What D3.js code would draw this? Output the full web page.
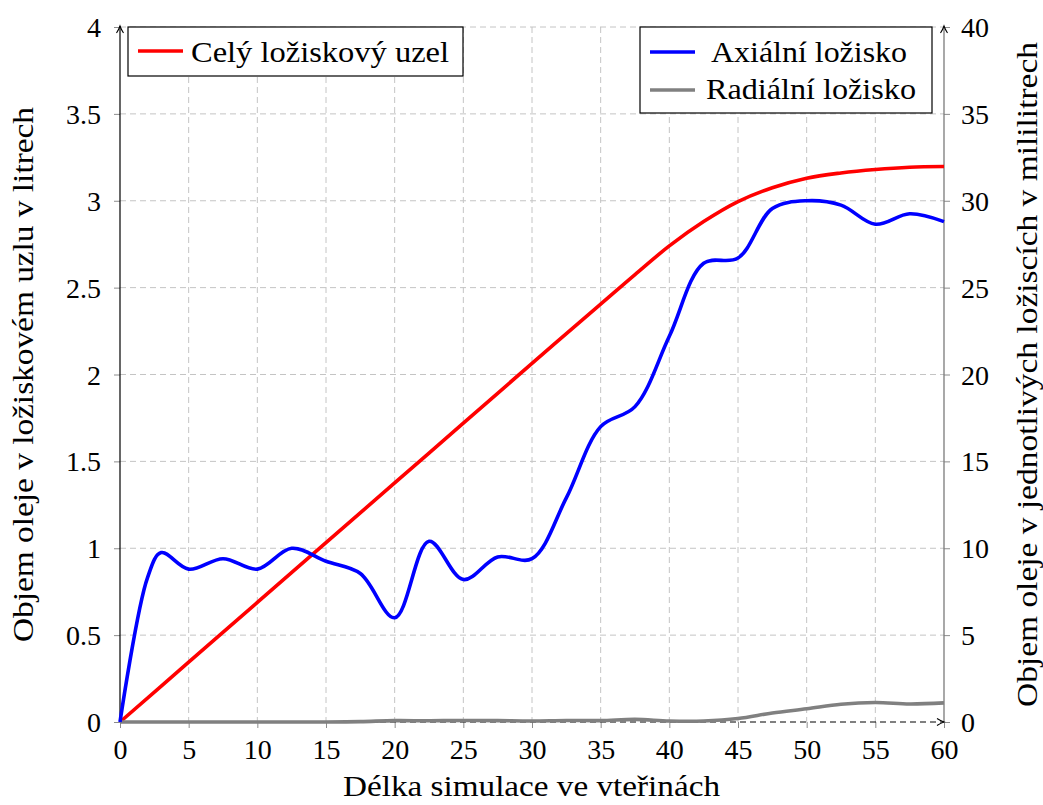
<!DOCTYPE html>
<html>
<head>
<meta charset="utf-8">
<script src="https://cdn.jsdelivr.net/npm/d3@7"></script>
<style>
  html, body { margin: 0; padding: 0; background: #fff; }
  svg { display: block; }
  text { font-family: "Liberation Serif", "Times New Roman", serif; fill: #000; }
</style>
</head>
<body>
<svg id="chart" width="1043" height="805"></svg>
<script>
// Time in seconds
const xTicks = [0, 5, 10, 15, 20, 25, 30, 35, 40, 45, 50, 55, 60];
const yLeftTicks = [0, 0.5, 1, 1.5, 2, 2.5, 3, 3.5, 4];
const yRightTicks = [0, 5, 10, 15, 20, 25, 30, 35, 40];

// Whole bearing node, litres (left axis)
const timeTotal = [0, 5, 10, 15, 20, 25, 30, 35, 37.5, 40, 42.5, 45, 47.5, 50, 52.5, 55, 57.5, 60];
const oilTotal = [0, 0.344, 0.688, 1.032, 1.376, 1.72, 2.064, 2.405, 2.575, 2.74, 2.88, 2.995, 3.075, 3.13, 3.16, 3.18, 3.193, 3.197];

// Axial bearing, millilitres (right axis)
const timeAxial = [0, 2, 3, 5, 7.5, 10, 12.5, 15, 17.5, 20, 22.5, 25, 27.5, 30, 32.5, 35, 37.5, 40, 42.5, 45, 47.5, 50, 52.5, 55, 57.5, 60];
const oilAxial = [0, 8.3, 9.75, 8.8, 9.4, 8.8, 10.0, 9.25, 8.55, 6.0, 10.4, 8.2, 9.5, 9.4, 12.9, 17.0, 18.15, 22.2, 26.4, 26.7, 29.55, 30.0, 29.75, 28.65, 29.25, 28.8];

// Radial bearing, millilitres (right axis)
const timeRadial = [0, 2.5, 5, 7.5, 10, 12.5, 15, 17.5, 20, 22.5, 25, 27.5, 30, 32.5, 35, 37.5, 40, 42.5, 45, 47.5, 50, 52.5, 55, 57.5, 60];
const oilRadial = [0, 0, 0, 0, 0, 0, 0, 0.02, 0.08, 0.07, 0.09, 0.08, 0.06, 0.09, 0.08, 0.15, 0.06, 0.06, 0.2, 0.52, 0.76, 1.02, 1.12, 1.04, 1.1];

const plotLeft = 120, plotRight = 944, plotTop = 27, plotBottom = 722;

const svg = d3.select("#chart");
const x = d3.scaleLinear().domain([0, 60]).range([plotLeft, plotRight]);
const yL = d3.scaleLinear().domain([0, 4]).range([plotBottom, plotTop]);
const yR = d3.scaleLinear().domain([0, 40]).range([plotBottom, plotTop]);

// Grid
const grid = svg.append("g")
  .attr("stroke", "#c4c4c4").attr("stroke-width", 1).attr("stroke-dasharray", "6,4").attr("fill", "none");
grid.selectAll("line.v").data(xTicks.filter(d => d > 0 && d < 60)).join("line")
  .attr("x1", d => x(d)).attr("x2", d => x(d)).attr("y1", plotTop).attr("y2", plotBottom);
grid.selectAll("line.h").data(yLeftTicks.filter(d => d > 0)).join("line")
  .attr("x1", plotLeft).attr("x2", plotRight).attr("y1", d => yL(d)).attr("y2", d => yL(d));

// Axes (ticks and labels through d3 axis generators)
function styleAxis(g) {
  g.attr("font-family", null);
  g.select(".domain").remove();
  g.selectAll(".tick line").attr("stroke", "#8c8c8c").attr("stroke-width", 1);
  g.selectAll(".tick text").attr("font-size", 28).attr("fill", "#000");
}

const xAxis = svg.append("g").attr("transform", `translate(0,${plotBottom})`)
  .call(d3.axisBottom(x).tickValues(xTicks).tickFormat(d3.format("d")).tickSize(6).tickPadding(10))
  .call(styleAxis);
xAxis.selectAll(".tick text").attr("y", 37).attr("dy", 0);

const yAxisL = svg.append("g").attr("transform", `translate(${plotLeft},0)`)
  .call(d3.axisLeft(yL).tickValues(yLeftTicks).tickFormat(d => String(d)).tickSize(6).tickPadding(13))
  .call(styleAxis);
yAxisL.selectAll(".tick text").attr("dy", "0.34em");

const yAxisR = svg.append("g").attr("transform", `translate(${plotRight},0)`)
  .call(d3.axisRight(yR).tickValues(yRightTicks).tickFormat(d3.format("d")).tickSize(6).tickPadding(11))
  .call(styleAxis);
yAxisR.selectAll(".tick text").attr("dy", "0.34em");

// Axis lines
function arrowHead(cx, cy, dir) {
  const p = dir === "up"
    ? `M${cx - 3.5},${cy + 7} Q${cx - 1},${cy + 3} ${cx},${cy} Q${cx + 1},${cy + 3} ${cx + 3.5},${cy + 7}`
    : `M${cx - 7},${cy - 3.5} Q${cx - 3},${cy - 1} ${cx},${cy} Q${cx - 3},${cy + 1} ${cx - 7},${cy + 3.5}`;
  svg.append("path").attr("d", p).attr("fill", "none").attr("stroke", "#000").attr("stroke-width", 1.1);
}
svg.append("line").attr("x1", x(60)).attr("x2", x(60)).attr("y1", plotBottom).attr("y2", plotTop - 1)
  .attr("stroke", "#7a7a7a").attr("stroke-width", 1.3);
arrowHead(x(60), plotTop - 1, "up");
svg.append("line").attr("x1", plotLeft).attr("x2", plotRight).attr("y1", plotBottom).attr("y2", plotBottom)
  .attr("stroke", "#000").attr("stroke-width", 1).attr("stroke-dasharray", "6,4");
arrowHead(plotRight, plotBottom, "right");
svg.append("line").attr("x1", plotLeft).attr("x2", plotLeft).attr("y1", plotBottom).attr("y2", plotTop - 1)
  .attr("stroke", "#000").attr("stroke-width", 1.2);
arrowHead(plotLeft, plotTop - 1, "up");

// Series
const curve = d3.curveCatmullRom.alpha(0.5);
const lineTotal = d3.line().x((d, i) => x(timeTotal[i])).y(d => yL(d)).curve(curve);
const lineAxial = d3.line().x((d, i) => x(timeAxial[i])).y(d => yR(d)).curve(curve);
const lineRadial = d3.line().x((d, i) => x(timeRadial[i])).y(d => yR(d)).curve(curve);

svg.append("path").attr("d", lineTotal(oilTotal)).attr("fill", "none")
  .attr("stroke", "#ff0000").attr("stroke-width", 3.6).attr("stroke-linejoin", "round");
svg.append("path").attr("d", lineRadial(oilRadial)).attr("fill", "none")
  .attr("stroke", "#808080").attr("stroke-width", 3.6).attr("stroke-linejoin", "round");
svg.append("path").attr("d", lineAxial(oilAxial)).attr("fill", "none")
  .attr("stroke", "#0000ff").attr("stroke-width", 3.6).attr("stroke-linejoin", "round");

// Legends
function legendBox(x0, y0, w, h) {
  svg.append("rect").attr("x", x0).attr("y", y0).attr("width", w).attr("height", h)
    .attr("fill", "#fff").attr("stroke", "#000").attr("stroke-width", 1.2);
}
function legendItem(lx1, lx2, ly, color, tx, tlen, tb, label) {
  svg.append("line").attr("x1", lx1).attr("x2", lx2).attr("y1", ly).attr("y2", ly)
    .attr("stroke", color).attr("stroke-width", 3.6);
  svg.append("text").attr("x", tx).attr("y", tb).attr("font-size", 30)
    .attr("textLength", tlen).attr("lengthAdjust", "spacingAndGlyphs").text(label);
}
legendBox(128, 27, 335, 49);
legendItem(138, 183, 51, "#ff0000", 191, 258, 61.5, "Celý ložiskový uzel");
legendBox(640, 27, 292, 86);
legendItem(650, 695, 52, "#0000ff", 711, 196, 61.5, "Axiální ložisko");
legendItem(650, 695, 90, "#808080", 706, 210, 98.5, "Radiální ložisko");

// Axis titles
svg.append("text").attr("x", 531.5).attr("y", 796).attr("text-anchor", "middle").attr("font-size", 30)
  .attr("textLength", 377).attr("lengthAdjust", "spacingAndGlyphs").text("Délka simulace ve vteřinách");
svg.append("text").attr("transform", "translate(33,374.5) rotate(-90)").attr("text-anchor", "middle")
  .attr("font-size", 30).attr("textLength", 535).attr("lengthAdjust", "spacingAndGlyphs")
  .text("Objem oleje v ložiskovém uzlu v litrech");
svg.append("text").attr("transform", "translate(1037,374.5) rotate(-90)").attr("text-anchor", "middle")
  .attr("font-size", 30).attr("textLength", 665).attr("lengthAdjust", "spacingAndGlyphs")
  .text("Objem oleje v jednotlivých ložiscích v mililitrech");
</script>
</body>
</html>
